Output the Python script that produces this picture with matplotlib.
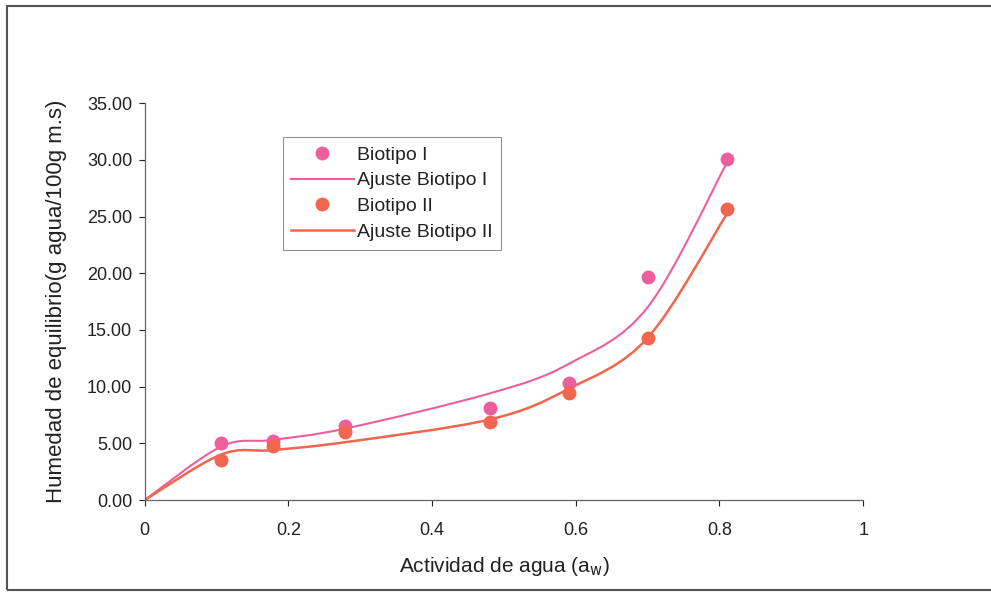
import numpy as np
import matplotlib
matplotlib.use("Agg")
import matplotlib.pyplot as plt
from matplotlib.path import Path
from matplotlib.patches import PathPatch, Rectangle
from matplotlib.lines import Line2D

plt.rcParams['font.family'] = ['Liberation Sans', 'DejaVu Sans']

# actividad de agua y humedad de equilibrio
aw = [0.106, 0.178, 0.279, 0.48, 0.59, 0.70, 0.81]
biotipo1 = [5.0, 5.2, 6.5, 8.1, 10.3, 19.7, 30.1]
biotipo2 = [3.5, 4.8, 6.0, 6.9, 9.4, 14.3, 25.7]

# modelo ajustado (incluye el origen)
aw_ajuste = [0.0, 0.106, 0.178, 0.279, 0.48, 0.59, 0.70, 0.81]
ajuste1 = [0.0, 4.7, 5.3, 6.3, 9.4, 12.0, 17.0, 29.7]
ajuste2 = [0.0, 4.0, 4.4, 5.1, 7.1, 9.8, 14.3, 25.2]

c_pink = '#EC5F9C'
c_red = '#F2654F'
c_txt = '#222222'


def suavizado(x, y):
    # curva suavizada tipo Excel (Catmull-Rom -> Bezier cubica)
    p = np.column_stack([x, y])
    n = len(p)
    verts = [p[0]]
    codes = [Path.MOVETO]
    for i in range(n - 1):
        p0 = p[i - 1] if i > 0 else p[i]
        p1 = p[i]
        p2 = p[i + 1]
        p3 = p[i + 2] if i + 2 < n else p[i + 1]
        verts += [p1 + (p2 - p0) / 6, p2 - (p3 - p1) / 6, p2]
        codes += [Path.CURVE4] * 3
    return Path(verts, codes)


fig = plt.figure(figsize=(9.91, 5.96), dpi=100)
ax = fig.add_axes([0.146, 0.161, 0.725, 0.666])

ax.add_patch(PathPatch(suavizado(aw_ajuste, ajuste1), fill=False, color=c_pink, lw=1.5))
ax.add_patch(PathPatch(suavizado(aw_ajuste, ajuste2), fill=False, color=c_red, lw=1.8))
ax.plot(aw, biotipo1, 'o', color=c_pink, ms=10, mec='none')
ax.plot(aw, biotipo2, 'o', color=c_red, ms=10, mec='none')

ax.set_xlim(0, 1)
ax.set_ylim(0, 35)
ax.set_xticks([0, 0.2, 0.4, 0.6, 0.8, 1])
ax.set_xticklabels(['0', '0.2', '0.4', '0.6', '0.8', '1'])
ax.set_yticks(np.arange(0, 36, 5))
ax.set_yticklabels([f'{v:.2f}' for v in np.arange(0, 36, 5)])
ax.tick_params(labelsize=13, colors=c_txt, length=4, width=0.8, pad=5)
ax.tick_params(axis='x', pad=12)
for s in ['top', 'right']:
    ax.spines[s].set_visible(False)
for s in ['left', 'bottom']:
    ax.spines[s].set_color('#666666')
    ax.spines[s].set_linewidth(0.9)

ax.set_xlabel('Actividad de agua (a$_{\\mathrm{w}}$)', fontsize=15, color=c_txt, labelpad=11)
ax.set_ylabel('Humedad de equilibrio(g agua/100g m.s)', fontsize=16, color=c_txt, labelpad=14)

handles = [
    Line2D([], [], ls='none', marker='o', color=c_pink, ms=10, mec='none'),
    Line2D([], [], color=c_pink, lw=1.5),
    Line2D([], [], ls='none', marker='o', color=c_red, ms=10, mec='none'),
    Line2D([], [], color=c_red, lw=1.8),
]
labels = ['Biotipo I', 'Ajuste Biotipo I', 'Biotipo II', 'Ajuste Biotipo II']
leg = ax.legend(handles, labels, loc='upper left', bbox_to_anchor=(0.192, 0.914),
                fontsize=14, frameon=True, fancybox=False, edgecolor='#777777',
                handlelength=3.2, handletextpad=0.15, labelspacing=0.42,
                borderpad=0.45, borderaxespad=0)
leg.get_frame().set_linewidth(0.8)
for t in leg.get_texts():
    t.set_color(c_txt)

# marco exterior
fig.patches.append(Rectangle((7 / 991, 6 / 596), 1.0, 584 / 596,
                             transform=fig.transFigure, fill=False,
                             edgecolor='#555555', lw=1.5))

fig.savefig('out.png', dpi=100)
